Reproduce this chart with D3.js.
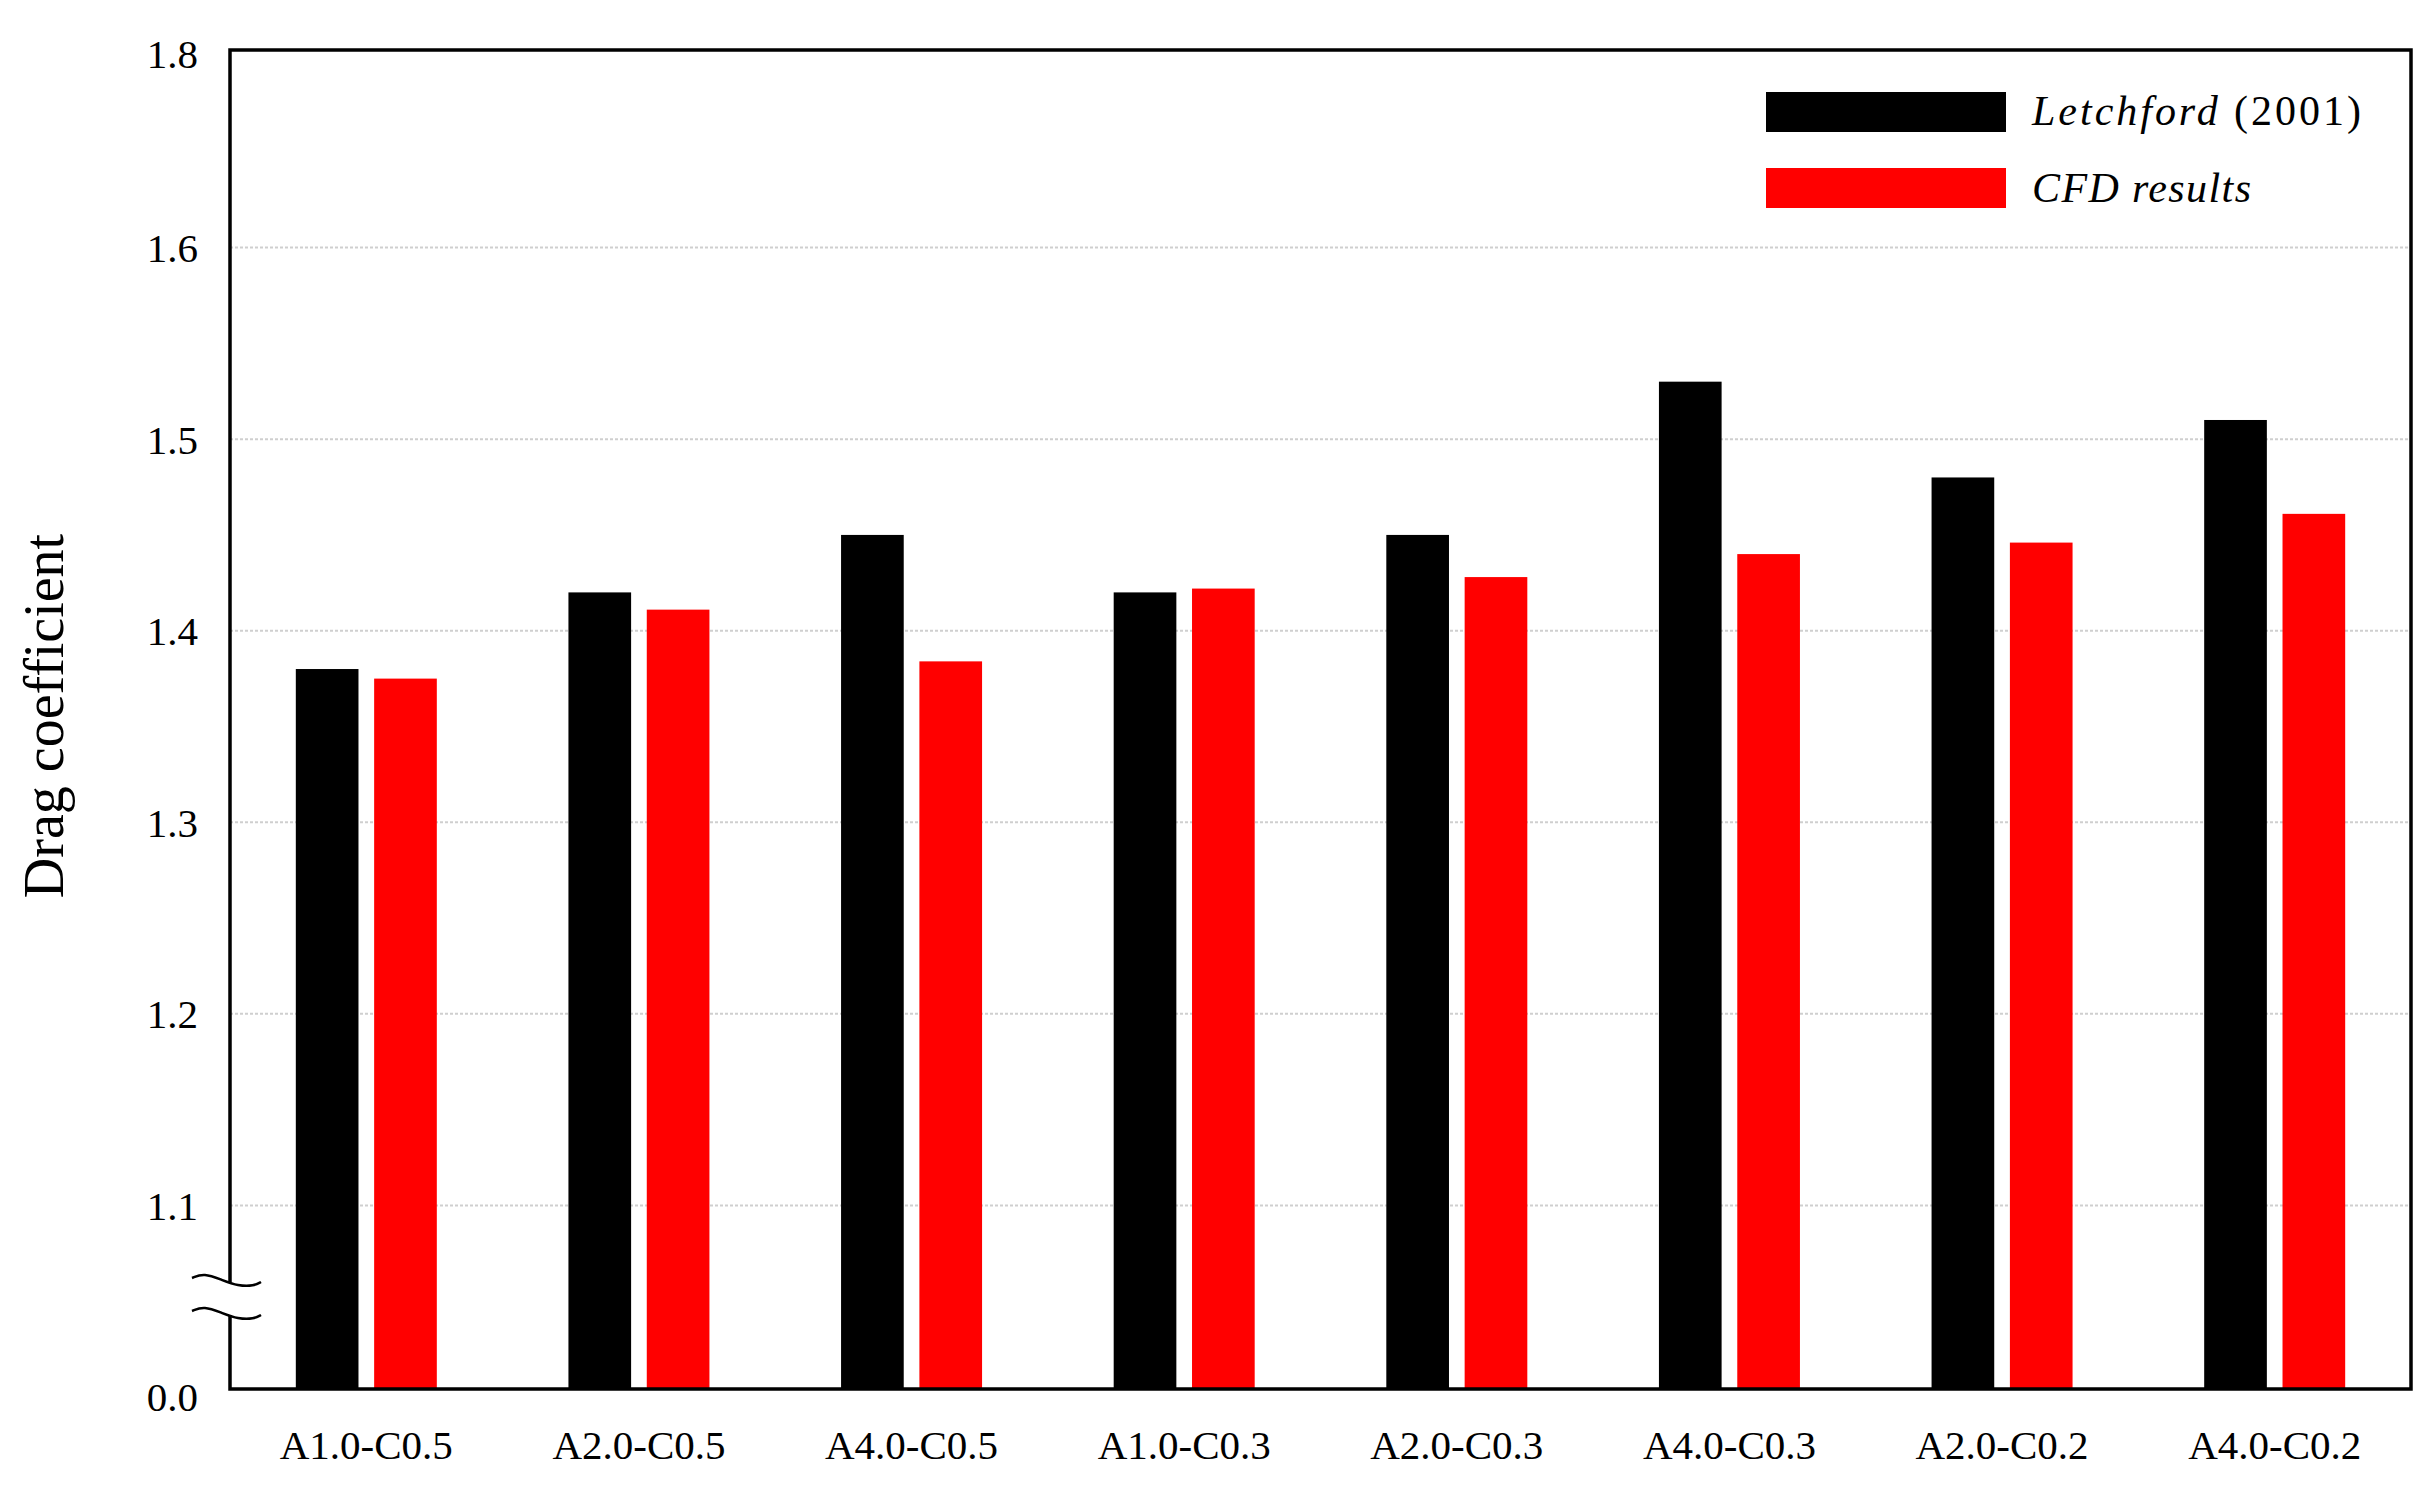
<!DOCTYPE html>
<html>
<head>
<meta charset="utf-8">
<script src="https://cdn.jsdelivr.net/npm/d3@7/dist/d3.min.js"></script>
<style>
  html, body { margin: 0; padding: 0; background: #fff; }
  svg { display: block; }
</style>
</head>
<body>
<svg id="chart" width="2436" height="1504"></svg>
<script>
// ---- data ----
const categories = ["A1.0-C0.5", "A2.0-C0.5", "A4.0-C0.5", "A1.0-C0.3", "A2.0-C0.3", "A4.0-C0.3", "A2.0-C0.2", "A4.0-C0.2"];
const seriesNames = ["Letchford (2001)", "CFD results"];
const letchford = [1.38, 1.42, 1.45, 1.42, 1.45, 1.53, 1.48, 1.51];
const cfd = [1.375, 1.411, 1.384, 1.422, 1.428, 1.44, 1.446, 1.461];
const yTickValues = [1.1, 1.2, 1.3, 1.4, 1.5, 1.6];
const yDomain = [1.0, 1.7];          // visible (upper) part of the broken axis
const edgeLabels = { bottom: "0.0", top: "1.8" };
const yTitle = "Drag coefficient";

// ---- layout ----
const W = 2436, H = 1504;
const plot = { left: 230, right: 2411, top: 50, bottom: 1389 };
const colors = ["#000000", "#ff0000"];
const serif = "'Liberation Serif', 'Times New Roman', serif";

const svg = d3.select("#chart");

const x0 = d3.scaleBand().domain(categories)
  .range([plot.left, plot.right]).paddingInner(0.49).paddingOuter(0.245);
const x1 = d3.scaleBand().domain(seriesNames)
  .range([-70.5, 70.5]).paddingInner(0.2);
const y = d3.scaleLinear().domain(yDomain).range([1397, 56]);

// gridlines
svg.append("g").selectAll("line").data(yTickValues).join("line")
  .attr("x1", plot.left).attr("x2", plot.right)
  .attr("y1", d => y(d)).attr("y2", d => y(d))
  .attr("stroke", "#cfcfcf").attr("stroke-width", 2)
  .attr("stroke-dasharray", "3,2");

// bars
const rows = categories.map((c, i) => ({ c, vals: [letchford[i], cfd[i]] }));
const groups = svg.append("g").selectAll("g").data(rows).join("g")
  .attr("transform", d => `translate(${x0(d.c) + x0.bandwidth() / 2},0)`);
groups.selectAll("rect").data(d => d.vals.map((v, k) => ({ v, k })))
  .join("rect")
  .attr("x", d => x1(seriesNames[d.k]))
  .attr("width", x1.bandwidth())
  .attr("y", d => y(d.v))
  .attr("height", d => plot.bottom - y(d.v))
  .attr("fill", d => colors[d.k]);

// frame
svg.append("rect")
  .attr("x", plot.left).attr("y", plot.top)
  .attr("width", plot.right - plot.left).attr("height", plot.bottom - plot.top)
  .attr("fill", "none").attr("stroke", "#000").attr("stroke-width", 3.5);

// axis break on the left axis
const breakUpper = 1282, breakLower = 1315;
svg.append("rect").attr("x", plot.left - 4).attr("y", breakUpper)
  .attr("width", 8).attr("height", breakLower - breakUpper).attr("fill", "#fff");
const wave = d3.line().curve(d3.curveBasis);
[breakUpper, breakLower].forEach(cy => {
  const pts = [[plot.left - 38, cy - 4], [plot.left - 26, cy - 9], [plot.left - 8, cy - 2],
               [plot.left + 8, cy + 4], [plot.left + 24, cy + 4], [plot.left + 31, cy]];
  svg.append("path").attr("d", wave(pts))
    .attr("fill", "none").attr("stroke", "#000").attr("stroke-width", 2.5);
});

// y tick labels via axis
const yAxis = d3.axisLeft(y).tickValues(yTickValues).tickSize(0).tickPadding(0)
  .tickFormat(d3.format(".1f"));
const ya = svg.append("g").attr("transform", `translate(198,0)`).call(yAxis);
ya.select(".domain").remove();
ya.selectAll("text").attr("font-family", serif).attr("font-size", 41)
  .attr("fill", "#000").attr("dy", "0.34em");

// edge labels of the broken axis
svg.append("text").attr("x", 198).attr("y", plot.top + 4).attr("dy", "0.34em")
  .attr("text-anchor", "end").attr("font-family", serif).attr("font-size", 41)
  .text(edgeLabels.top);
svg.append("text").attr("x", 198).attr("y", plot.bottom + 8).attr("dy", "0.34em")
  .attr("text-anchor", "end").attr("font-family", serif).attr("font-size", 41)
  .text(edgeLabels.bottom);

// x category labels via axis
const xAxis = d3.axisBottom(x0).tickSize(0).tickPadding(0);
const xa = svg.append("g").attr("transform", `translate(0,1459)`).call(xAxis);
xa.select(".domain").remove();
xa.selectAll("text").attr("font-family", serif).attr("font-size", 41)
  .attr("fill", "#000").attr("dy", 0).attr("y", 0);

// y title
svg.append("text")
  .attr("transform", `translate(63,716) rotate(-90)`)
  .attr("text-anchor", "middle").attr("font-family", serif).attr("font-size", 56)
  .text(yTitle);

// legend
const legend = [
  { name: seriesNames[0], color: colors[0], y: 92, base: 125, len: 329, italic: "Letchford", rest: " (2001)" },
  { name: seriesNames[1], color: colors[1], y: 168, base: 202, len: 219, italic: "CFD results", rest: "" }
];
legend.forEach(l => {
  svg.append("rect").attr("x", 1766).attr("y", l.y).attr("width", 240).attr("height", 40)
    .attr("fill", l.color);
  const t = svg.append("text").attr("x", 2032).attr("y", l.base)
    .attr("font-family", serif).attr("font-size", 42)
    .attr("textLength", l.len).attr("lengthAdjust", "spacing");
  t.append("tspan").attr("font-style", "italic").text(l.italic);
  if (l.rest) t.append("tspan").text(l.rest);
});
</script>
</body>
</html>
